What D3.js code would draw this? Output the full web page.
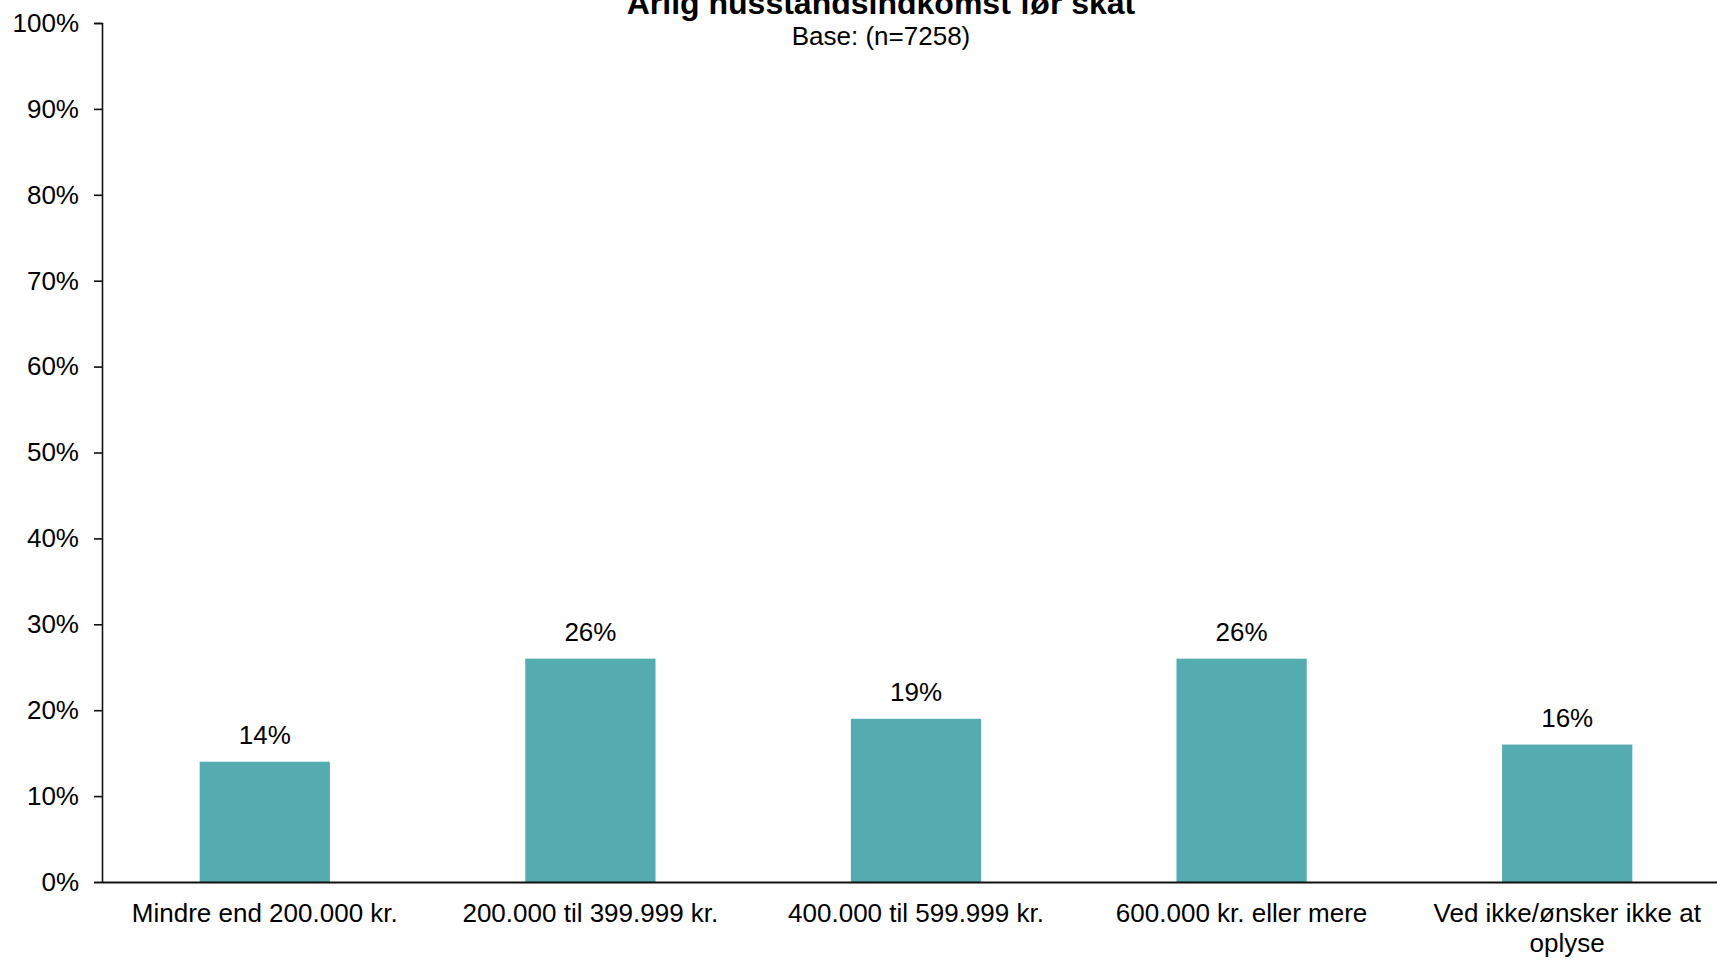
<!DOCTYPE html>
<html><head><meta charset="utf-8">
<script src="https://cdn.jsdelivr.net/npm/d3@7"></script>
<style>
html,body{margin:0;padding:0;background:#fff;}
svg{display:block;font-family:"Liberation Sans",Arial,sans-serif;}
</style></head>
<body>
<svg id="chart" width="1717" height="960"></svg>
<script>
const categories = ["Mindre end 200.000 kr.", "200.000 til 399.999 kr.", "400.000 til 599.999 kr.", "600.000 kr. eller mere", "Ved ikke/ønsker ikke at oplyse"];
const categoryLines = [["Mindre end 200.000 kr."], ["200.000 til 399.999 kr."], ["400.000 til 599.999 kr."], ["600.000 kr. eller mere"], ["Ved ikke/ønsker ikke at", "oplyse"]];
const values = [14, 26, 19, 26, 16];
const yTicks = [0, 10, 20, 30, 40, 50, 60, 70, 80, 90, 100];
const title = "Årlig husstandsindkomst før skat";
const subtitle = "Base: (n=7258)";

(function () {
const svg = d3.select("#chart");
const mLeft = 102, mRight = 1730, mTop = 23, mBottom = 882;

const x = d3.scaleBand().domain(categories).range([mLeft, mRight]).paddingInner(0.6).paddingOuter(0.3);
const y = d3.scaleLinear().domain([0, 100]).range([mBottom, mTop]);

// title
svg.append("text").attr("x", 881).attr("y", 14).attr("text-anchor", "middle")
  .attr("font-size", 32).attr("font-weight", "bold").attr("fill", "#000").text(title);
svg.append("text").attr("x", 881).attr("y", 45).attr("text-anchor", "middle")
  .attr("font-size", 26).attr("fill", "#000").text(subtitle);

// bars
svg.selectAll("rect.bar").data(values).enter().append("rect")
  .attr("class", "bar")
  .attr("x", (d, i) => x(categories[i]))
  .attr("width", x.bandwidth())
  .attr("y", d => y(d))
  .attr("height", d => y(0) - y(d))
  .attr("fill", "#54acb0");

// value labels
svg.selectAll("text.val").data(values).enter().append("text")
  .attr("class", "val")
  .attr("x", (d, i) => x(categories[i]) + x.bandwidth() / 2)
  .attr("y", d => y(d) - 18)
  .attr("text-anchor", "middle").attr("font-size", 26).attr("fill", "#000")
  .text(d => d + "%");

// y axis
const yAxis = d3.axisLeft(y).tickValues(yTicks).tickFormat(d => d + "%").tickSize(8).tickPadding(15);
const gy = svg.append("g").attr("transform", `translate(${mLeft},0)`).call(yAxis);
gy.select(".domain").attr("stroke", "#111").attr("stroke-width", 1.6);
gy.selectAll(".tick line").attr("stroke", "#111").attr("stroke-width", 1.6);
gy.selectAll(".tick text").attr("font-size", 26).attr("fill", "#000")
  .attr("font-family", "Liberation Sans, Arial, sans-serif");

// x axis
const xAxis = d3.axisBottom(x).tickSize(0).tickFormat("");
const gx = svg.append("g").attr("transform", `translate(0,${mBottom})`).call(xAxis);
gx.select(".domain").attr("stroke", "#111").attr("stroke-width", 2);

// x labels
categories.forEach((c, i) => {
  const cx = x(c) + x.bandwidth() / 2;
  const t = svg.append("text")
    .attr("x", cx).attr("y", 922)
    .attr("text-anchor", "middle").attr("font-size", 26).attr("fill", "#000");
  categoryLines[i].forEach((line, j) => {
    t.append("tspan").attr("x", cx).attr("dy", j === 0 ? 0 : 30).text(line);
  });
});
})();
</script>
</body></html>
